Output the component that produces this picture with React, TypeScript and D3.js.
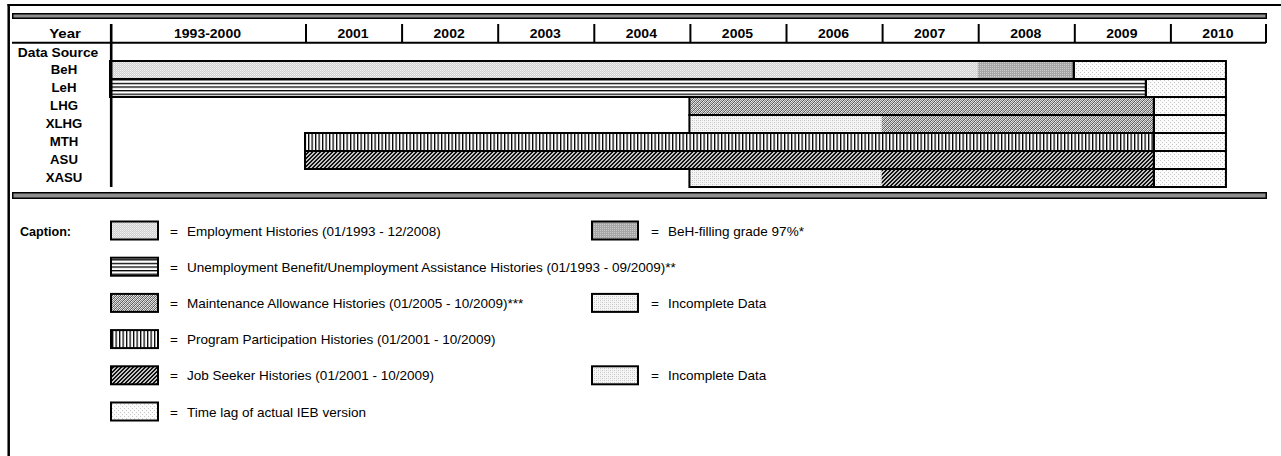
import React from "react";
import * as d3 from "d3";

const W = 1281;
const H = 456;

const sources = ["BeH", "LeH", "LHG", "XLHG", "MTH", "ASU", "XASU"];
const periodLabels = ["1993-2000", "2001", "2002", "2003", "2004", "2005", "2006", "2007", "2008", "2009", "2010"];
const periodStarts = [1993, 2001, 2002, 2003, 2004, 2005, 2006, 2007, 2008, 2009, 2010];
const periodEnds = [2001, 2002, 2003, 2004, 2005, 2006, 2007, 2008, 2009, 2010, 2011];
const lagEnd = 2010 + 7 / 12;

const segSource = ["BeH", "BeH", "LeH", "LHG", "XLHG", "XLHG", "MTH", "ASU", "XASU", "XASU"];
const segStart = [1993, 2008, 1993, 2005, 2005, 2007, 2001, 2001, 2005, 2007];
const segEnd = [2008, 2009, 2009 + 9 / 12, 2009 + 10 / 12, 2007, 2009 + 10 / 12, 2009 + 10 / 12, 2009 + 10 / 12, 2007, 2009 + 10 / 12];
const segKind = ["emp", "fill", "leh", "lhg", "inc", "lhg", "mth", "asu", "inc", "asu"];

const legend1Kinds = ["emp", "leh", "lhg", "mth", "asu", "lag"];
const legend1Labels = [
  "Employment Histories (01/1993 - 12/2008)",
  "Unemployment Benefit/Unemployment Assistance Histories (01/1993 - 09/2009)**",
  "Maintenance Allowance Histories (01/2005 - 10/2009)***",
  "Program Participation Histories (01/2001 - 10/2009)",
  "Job Seeker Histories (01/2001 - 10/2009)",
  "Time lag of actual IEB version",
];
const legend2Rows = [0, 2, 4];
const legend2Kinds = ["fill", "inc", "inc"];
const legend2Labels = ["BeH-filling grade 97%*", "Incomplete Data", "Incomplete Data"];

const FONT = "'Liberation Sans', Arial, Helvetica, sans-serif";

function Patterns() {
  return (
    <defs>
      <pattern id="p-emp" width={2} height={2} patternUnits="userSpaceOnUse">
        <rect width={2} height={2} fill="#cfcfcf" />
        <rect width={1} height={1} fill="#f2f2f2" />
        <rect x={1} y={1} width={1} height={1} fill="#e4e4e4" />
      </pattern>
      <pattern id="p-fill" width={2} height={2} patternUnits="userSpaceOnUse">
        <rect width={2} height={2} fill="#a6a6a6" />
        <rect width={1} height={1} fill="#cccccc" />
      </pattern>
      <pattern id="p-leh" width={4} height={3.6} patternUnits="userSpaceOnUse">
        <rect width={4} height={3.6} fill="#ffffff" />
        <rect y={0} width={4} height={1.3} fill="#000000" />
      </pattern>
      <pattern id="p-mth" width={3.5} height={4} patternUnits="userSpaceOnUse">
        <rect width={3.5} height={4} fill="#ffffff" />
        <rect x={0} width={1.3} height={4} fill="#000000" />
      </pattern>
      <pattern id="p-lhg" width={4} height={4} patternUnits="userSpaceOnUse">
        <rect width={4} height={4} fill="#d4d4d4" />
        <rect x={0} y={3} width={1} height={1} fill="#5a5a5a" />
        <rect x={1} y={2} width={1} height={1} fill="#5a5a5a" />
        <rect x={2} y={1} width={1} height={1} fill="#5a5a5a" />
        <rect x={3} y={0} width={1} height={1} fill="#5a5a5a" />
        <rect x={2} y={3} width={1} height={1} fill="#8a8a8a" />
        <rect x={3} y={2} width={1} height={1} fill="#8a8a8a" />
        <rect x={0} y={1} width={1} height={1} fill="#8a8a8a" />
        <rect x={1} y={0} width={1} height={1} fill="#8a8a8a" />
        <rect x={1} y={3} width={1} height={1} fill="#f4f4f4" />
        <rect x={3} y={1} width={1} height={1} fill="#f4f4f4" />
      </pattern>
      <pattern id="p-asu" width={4} height={4} patternUnits="userSpaceOnUse">
        <rect width={4} height={4} fill="#c4c4c4" />
        <rect x={0} y={3} width={2} height={1} fill="#111111" />
        <rect x={1} y={2} width={2} height={1} fill="#111111" />
        <rect x={2} y={1} width={2} height={1} fill="#111111" />
        <rect x={3} y={0} width={1} height={1} fill="#111111" />
        <rect x={0} y={0} width={1} height={1} fill="#111111" />
      </pattern>
      <pattern id="p-inc" width={4} height={4} patternUnits="userSpaceOnUse">
        <rect width={4} height={4} fill="#f6f6f6" />
        <rect x={0} y={0} width={1} height={1} fill="#c2c2c2" />
        <rect x={2} y={2} width={1} height={1} fill="#c2c2c2" />
        <rect x={2} y={0} width={1} height={1} fill="#dadada" />
        <rect x={0} y={2} width={1} height={1} fill="#dadada" />
      </pattern>
      <pattern id="p-lag" width={4} height={4} patternUnits="userSpaceOnUse">
        <rect width={4} height={4} fill="#fbfbfb" />
        <rect x={0} y={0} width={1} height={1} fill="#c6c6c6" />
        <rect x={2} y={2} width={1} height={1} fill="#c6c6c6" />
      </pattern>
    </defs>
  );
}

export default function App() {
  const x = d3.scaleLinear().domain([1993, 2001, 2011]).range([110, 305, 1266]);
  const y = d3.scaleBand<string>().domain(sources).range([61, 187]).padding(0);
  const bh = y.bandwidth();

  const outlines = sources.map((s) => {
    const idx = segSource.map((v, i) => (v === s ? i : -1)).filter((i) => i >= 0);
    const start = d3.min(idx, (i) => segStart[i]) as number;
    const end = d3.max(idx, (i) => segEnd[i]) as number;
    return { s, start, end };
  });

  const lineLeft = 12;
  const lineRight = 1267;
  const headerTextY = 37.5;
  const legendRowY = d3.range(6).map((i) => 230.5 + i * 36.2);

  return (
    <svg
      width={W}
      height={H}
      viewBox={`0 0 ${W} ${H}`}
      style={{ position: "absolute", left: 0, top: 0, background: "#ffffff" }}
      fontFamily={FONT}
    >
      <Patterns />
      <rect width={W} height={H} fill="#ffffff" />

      {/* outer frame */}
      <line x1={7.5} x2={W} y1={5} y2={5} stroke="#000" strokeWidth={2} />
      <line x1={8.7} x2={8.7} y1={4} y2={H} stroke="#000" strokeWidth={2.5} />

      {/* top double line */}
      <rect x={lineLeft} y={13} width={lineRight - lineLeft} height={6} fill="#000" />
      <rect x={lineLeft + 1.5} y={14.5} width={lineRight - lineLeft - 3} height={3} fill="#8e8e8e" />

      {/* header */}
      <text
        transform={`translate(65,${headerTextY}) scale(1.22,1)`}
        textAnchor="middle"
        fontWeight="bold"
        fontSize={12.3}
      >
        Year
      </text>
      {periodLabels.map((lab, i) => {
        const cx = (x(periodStarts[i]) + x(periodEnds[i])) / 2;
        return (
          <text
            key={lab}
            transform={`translate(${cx},${headerTextY}) scale(1.14,1)`}
            textAnchor="middle"
            fontWeight="bold"
            fontSize={12.3}
          >
            {lab}
          </text>
        );
      })}
      {periodStarts.map((p) => (
        <line key={"d" + p} x1={x(p) + 1} x2={x(p) + 1} y1={24} y2={43} stroke="#000" strokeWidth={2} />
      ))}
      <line x1={x(2011)} x2={x(2011)} y1={24} y2={43} stroke="#000" strokeWidth={2} />
      <line x1={lineLeft} x2={lineRight - 1} y1={42.7} y2={42.7} stroke="#000" strokeWidth={2} />

      {/* row labels */}
      <text transform="translate(58,56.5) scale(1.15,1)" textAnchor="middle" fontWeight="bold" fontSize={12}>
        Data Source
      </text>
      {sources.map((s) => (
        <text
          key={"l" + s}
          transform={`translate(64,${(y(s) as number) + 13}) scale(1.1,1)`}
          textAnchor="middle"
          fontWeight="bold"
          fontSize={12}
        >
          {s}
        </text>
      ))}

      {/* bar segments */}
      {segSource.map((s, i) => (
        <rect
          key={"s" + i}
          x={x(segStart[i])}
          y={y(s)}
          width={x(segEnd[i]) - x(segStart[i])}
          height={bh}
          fill={`url(#p-${segKind[i]})`}
        />
      ))}
      {outlines.map((o) => (
        <rect
          key={"lag" + o.s}
          x={x(o.end)}
          y={y(o.s)}
          width={x(lagEnd) - x(o.end)}
          height={bh}
          fill="url(#p-lag)"
        />
      ))}
      {outlines.map((o) => (
        <g key={"o" + o.s}>
          <rect
            x={x(o.start)}
            y={y(o.s)}
            width={x(o.end) - x(o.start)}
            height={bh}
            fill="none"
            stroke="#000"
            strokeWidth={2}
          />
          <rect
            x={x(o.end)}
            y={y(o.s)}
            width={x(lagEnd) - x(o.end)}
            height={bh}
            fill="none"
            stroke="#000"
            strokeWidth={2}
          />
        </g>
      ))}

      {/* label column divider */}
      <line x1={111.2} x2={111.2} y1={24} y2={187} stroke="#000" strokeWidth={2.6} />

      {/* bottom double line */}
      <rect x={lineLeft} y={192} width={lineRight - lineLeft} height={7} fill="#000" />
      <rect x={lineLeft + 1.5} y={193.5} width={lineRight - lineLeft - 3} height={4} fill="#8e8e8e" />

      {/* caption */}
      <text transform="translate(20,236) scale(1.05,1)" fontWeight="bold" fontSize={12}>
        Caption:
      </text>
      {legend1Kinds.map((k, i) => (
        <g key={"lg1" + i}>
          <rect
            x={111}
            y={legendRowY[i] - 9}
            width={47}
            height={18}
            fill={`url(#p-${k})`}
            stroke="#000"
            strokeWidth={2}
          />
          <text transform={`translate(170,${legendRowY[i] + 5}) scale(1.04,1)`} fontSize={13}>
            =
          </text>
          <text transform={`translate(187,${legendRowY[i] + 5}) scale(1.04,1)`} fontSize={13}>
            {legend1Labels[i]}
          </text>
        </g>
      ))}
      {legend2Rows.map((r, i) => (
        <g key={"lg2" + i}>
          <rect
            x={592}
            y={legendRowY[r] - 9}
            width={46}
            height={18}
            fill={`url(#p-${legend2Kinds[i]})`}
            stroke="#000"
            strokeWidth={2}
          />
          <text transform={`translate(651,${legendRowY[r] + 5}) scale(1.04,1)`} fontSize={13}>
            =
          </text>
          <text transform={`translate(668,${legendRowY[r] + 5}) scale(1.04,1)`} fontSize={13}>
            {legend2Labels[i]}
          </text>
        </g>
      ))}
    </svg>
  );
}
